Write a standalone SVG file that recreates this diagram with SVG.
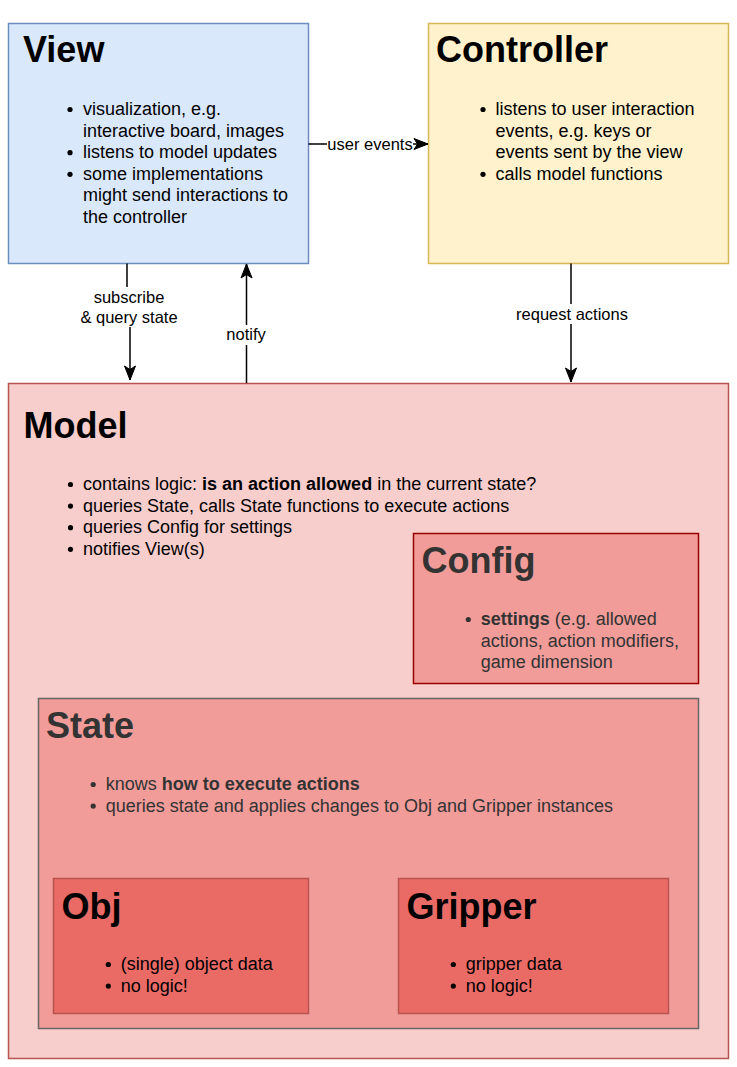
<svg xmlns="http://www.w3.org/2000/svg" width="737" height="1067" viewBox="0 0 737 1067">
<style>
text{font-family:"Liberation Sans",Arial,Helvetica,sans-serif}
.title{font-size:36px;font-weight:bold}
.body{font-size:18px}
.b{font-weight:bold}
.lbl{font-size:16.5px;text-anchor:middle;fill:#000}
.dark{fill:#333333}
.blk{fill:#000000}
.box{stroke-width:1.5}
.edge{fill:none;stroke:#000;stroke-width:1.5}
.lblbg{fill:#ffffff}
</style>
<defs>
<marker id="arr" markerUnits="userSpaceOnUse" markerWidth="16" markerHeight="16" viewBox="0 0 16 16" refX="15" refY="8" orient="auto">
<path d="M1,2.5 L15,8 L1,13.5 L4.5,8 Z" fill="#000" stroke="#000" stroke-width="1"/>
</marker>
</defs>
<rect width="737" height="1067" fill="#ffffff"/>

<g id="view">
<rect class="box" x="8.5" y="23.5" width="300" height="240" fill="#dae8fc" stroke="#6c8ebf"/>
<text class="title blk" x="23" y="62">View</text>
<g class="blk">
<circle cx="70" cy="109.5" r="2.6"/><circle cx="70" cy="152.7" r="2.6"/><circle cx="70" cy="174.3" r="2.6"/>
</g>
<text class="body blk" x="83">
<tspan x="83" y="115">visualization, e.g.</tspan>
<tspan x="83" y="136.6">interactive board, images</tspan>
<tspan x="83" y="158.2">listens to model updates</tspan>
<tspan x="83" y="179.8">some implementations</tspan>
<tspan x="83" y="201.4">might send interactions to</tspan>
<tspan x="83" y="223">the controller</tspan>
</text>
</g>

<g id="controller">
<rect class="box" x="428.5" y="23.5" width="300" height="240" fill="#fff2cc" stroke="#d6b656"/>
<text class="title blk" x="436" y="62">Controller</text>
<g class="blk">
<circle cx="483" cy="109.5" r="2.6"/><circle cx="483" cy="174.3" r="2.6"/>
</g>
<text class="body blk">
<tspan x="495.5" y="115">listens to user interaction</tspan>
<tspan x="495.5" y="136.6">events, e.g. keys or</tspan>
<tspan x="495.5" y="158.2">events sent by the view</tspan>
<tspan x="495.5" y="179.8">calls model functions</tspan>
</text>
</g>

<g id="model">
<rect class="box" x="8.5" y="383.5" width="720" height="675" fill="#f8cecc" stroke="#b85450"/>
<text class="title blk" x="23.5" y="438">Model</text>
<g class="blk">
<circle cx="70.5" cy="484.5" r="2.6"/><circle cx="70.5" cy="506.1" r="2.6"/><circle cx="70.5" cy="527.7" r="2.6"/><circle cx="70.5" cy="549.3" r="2.6"/>
</g>
<text class="body blk" x="83" y="490">contains logic: <tspan class="b">is an action allowed</tspan> in the current state?</text>
<text class="body blk" x="83" y="511.6">queries State, calls State functions to execute actions</text>
<text class="body blk" x="83" y="533.2">queries Config for settings</text>
<text class="body blk" x="83" y="554.8">notifies View(s)</text>
</g>

<g id="config">
<rect class="box" x="413.5" y="533.5" width="285" height="150" fill="#f19c99" stroke="#990000"/>
<text class="title dark" x="421.5" y="573">Config</text>
<circle class="dark" cx="468.3" cy="619.5" r="2.6"/>
<text class="body dark" x="480.8" y="625"><tspan class="b">settings</tspan> (e.g. allowed</text>
<text class="body dark" x="480.8" y="646.6">actions, action modifiers,</text>
<text class="body dark" x="480.8" y="668.2">game dimension</text>
</g>

<g id="state">
<rect class="box" x="38.5" y="698.5" width="660" height="330" fill="#f19c99" stroke="#666666"/>
<text class="title dark" x="46" y="738">State</text>
<circle class="dark" cx="93.2" cy="784.5" r="2.6"/><circle class="dark" cx="93.2" cy="806.1" r="2.6"/>
<text class="body dark" x="105.7" y="790">knows <tspan class="b">how to execute actions</tspan></text>
<text class="body dark" x="105.7" y="811.6">queries state and applies changes to Obj and Gripper instances</text>
</g>

<g id="obj">
<rect class="box" x="53.5" y="878.5" width="255" height="135" fill="#ea6b66" stroke="#b85450"/>
<text class="title blk" x="61.5" y="918.5">Obj</text>
<circle class="blk" cx="108.3" cy="964.5" r="2.6"/><circle class="blk" cx="108.3" cy="986.1" r="2.6"/>
<text class="body blk" x="120.8" y="970">(single) object data</text>
<text class="body blk" x="120.8" y="991.6">no logic!</text>
</g>

<g id="gripper">
<rect class="box" x="398.5" y="878.5" width="270" height="135" fill="#ea6b66" stroke="#b85450"/>
<text class="title blk" x="406.5" y="918.5">Gripper</text>
<circle class="blk" cx="453.3" cy="964.5" r="2.6"/><circle class="blk" cx="453.3" cy="986.1" r="2.6"/>
<text class="body blk" x="465.8" y="970">gripper data</text>
<text class="body blk" x="465.8" y="991.6">no logic!</text>
</g>

<g id="connectors">
<path class="edge" d="M308.5,144 L428,144" marker-end="url(#arr)"/>
<rect class="lblbg" x="327" y="134" width="86" height="20"/>
<text class="lbl" x="370" y="149.5">user events</text>

<path class="edge" d="M127,263.5 L127,300 L130,300 L130,380" marker-end="url(#arr)"/>
<rect class="lblbg" x="92" y="287" width="74" height="40"/>
<text class="lbl" x="129" y="303">subscribe</text>
<text class="lbl" x="129" y="322.8">&amp; query state</text>

<path class="edge" d="M246.5,383 L246.5,264" marker-end="url(#arr)"/>
<rect class="lblbg" x="224" y="325" width="45" height="20"/>
<text class="lbl" x="246" y="340">notify</text>

<path class="edge" d="M571,263.5 L571,382" marker-end="url(#arr)"/>
<rect class="lblbg" x="515" y="304" width="114" height="20"/>
<text class="lbl" x="572" y="319.5">request actions</text>
</g>
</svg>
